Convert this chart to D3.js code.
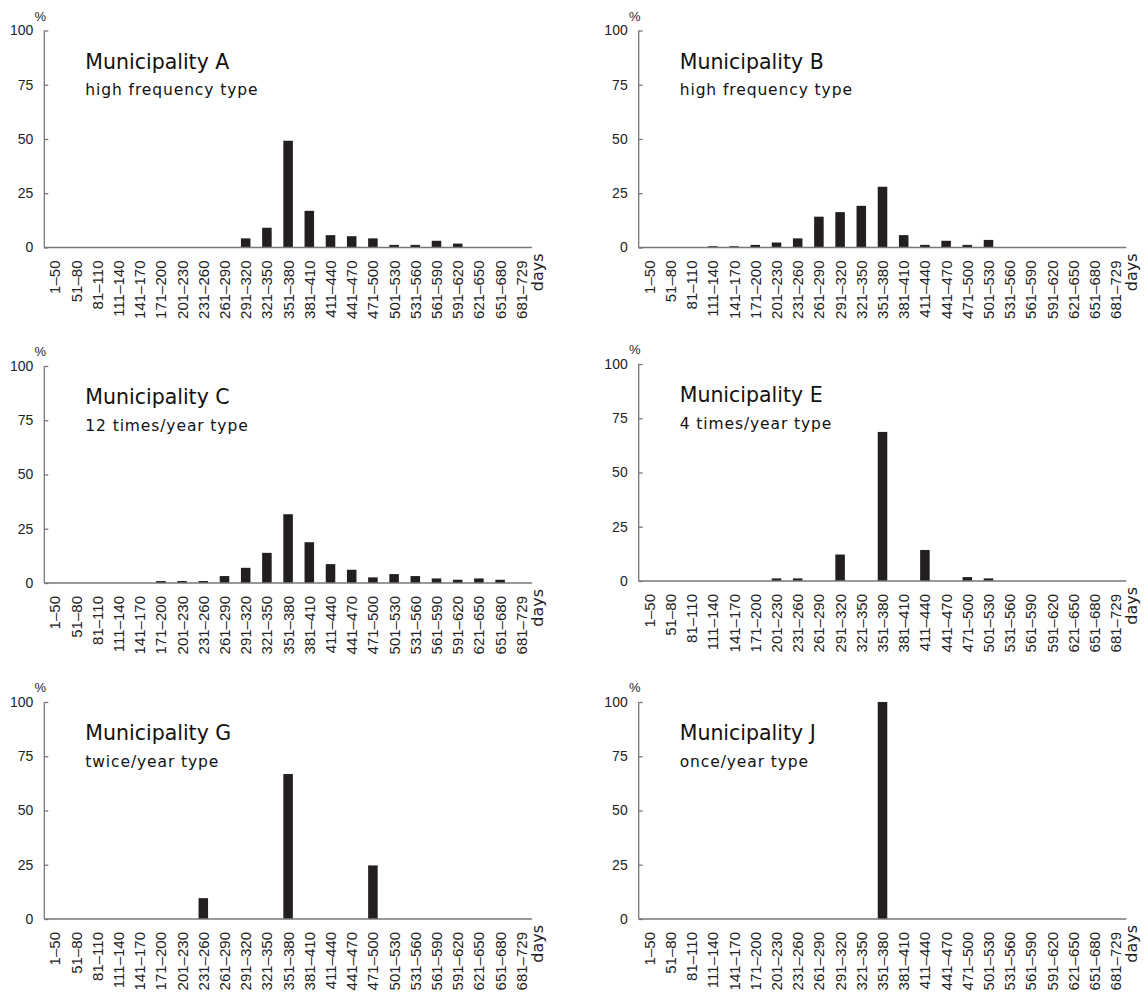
<!DOCTYPE html>
<html>
<head>
  <meta charset="utf-8">
  <title>Intervals</title>
  <script src="https://d3js.org/d3.v7.min.js"></script>
  <style>
    body { margin: 0; background: #fff; }
  </style>
</head>
<body>
<script>
  var W = 1145, H = 993;

  var categories = ["1–50","51–80","81–110","111–140","141–170","171–200","201–230",
    "231–260","261–290","291–320","321–350","351–380","381–410","411–440","441–470",
    "471–500","501–530","531–560","561–590","591–620","621–650","651–680","681–729"];

  var yTicks = [0, 25, 50, 75, 100];

  var muniA = [0,0,0,0,0,0,0,0,0,4.2,9.1,49.2,16.9,5.7,5.2,4.2,1.2,1.2,3.1,1.8,0,0,0];
  var muniB = [0,0,0,0.6,0.6,1.2,2.3,4.2,14.2,16.3,19.2,28,5.7,1.2,3.1,1.2,3.5,0,0,0,0,0,0];
  var muniC = [0,0,0,0,0,0.9,0.9,0.9,3.2,7.0,13.9,31.7,18.8,8.7,6.1,2.6,4.1,3.2,2.1,1.5,2.1,1.5,0];
  var muniE = [0,0,0,0,0,0,1.2,1.2,0,12.2,0,68.7,0,14.3,0,1.8,1.2,0,0,0,0,0,0];
  var muniG = [0,0,0,0,0,0,0,9.6,0,0,0,66.8,0,0,0,24.7,0,0,0,0,0,0,0];
  var muniJ = [0,0,0,0,0,0,0,0,0,0,0,100,0,0,0,0,0,0,0,0,0,0,0];

  var titles = ["Municipality A","Municipality B","Municipality C","Municipality E","Municipality G","Municipality J"];
  var subtitles = ["high frequency type","high frequency type","12 times/year type","4 times/year type","twice/year type","once/year type"];
  var series = [muniA, muniB, muniC, muniE, muniG, muniJ];

  // panel placement (left x of y axis, top = y of 100)
  var layout = [
    {x: 44.3, top: 30.5},
    {x: 638.7, top: 30.5},
    {x: 44.3, top: 366},
    {x: 638.7, top: 364},
    {x: 44.3, top: 702},
    {x: 638.7, top: 702}
  ];
  var pw = 487.6, ph = 217;
  var axisColor = "#777";

  var svg = d3.select("body").append("svg").attr("width", W).attr("height", H);

  series.forEach(function(vals, i){
    var L = layout[i];
    var g = svg.append("g").attr("transform", "translate(" + L.x + "," + L.top + ")");

    var x = d3.scaleBand().domain(categories).range([0, pw]).paddingInner(0.55).paddingOuter(0.275);
    var y = d3.scaleLinear().domain([0, 100]).range([ph, 0]);

    // bars
    g.selectAll("rect.bar")
      .data(vals)
      .enter()
      .append("rect")
      .attr("class", "bar")
      .attr("x", function(d, j){ return x(categories[j]); })
      .attr("width", x.bandwidth())
      .attr("y", function(d){ return y(d); })
      .attr("height", function(d){ return ph - y(d); })
      .attr("fill", "#231f20");

    // y axis
    var yAxis = d3.axisLeft(y).tickValues(yTicks).tickSize(-4).tickPadding(11);
    var ya = g.append("g").call(yAxis);
    ya.select(".domain").attr("stroke", axisColor).attr("stroke-width", 1.3).attr("d", "M0," + ph + "V0");
    ya.selectAll(".tick line").attr("stroke", axisColor).attr("stroke-width", 1.3);
    ya.selectAll(".tick text")
      .attr("font-family", "'Liberation Sans', Arial, sans-serif")
      .attr("font-size", "14px")
      .attr("fill", "#222");

    // x axis
    var xAxis = d3.axisBottom(x).tickSize(0).tickPadding(0);
    var xa = g.append("g").attr("transform", "translate(0," + ph + ")").call(xAxis);
    xa.select(".domain").attr("stroke", axisColor).attr("stroke-width", 1.5).attr("d", "M0,0H" + pw);
    xa.selectAll(".tick text")
      .attr("font-family", "'Liberation Sans', Arial, sans-serif")
      .attr("font-size", "15px")
      .attr("fill", "#222")
      .attr("text-anchor", "end")
      .attr("transform", "rotate(-90)")
      .attr("x", -13)
      .attr("y", 0)
      .attr("dy", "0.36em");

    // unit labels
    g.append("text")
      .attr("x", -4).attr("y", -10)
      .attr("text-anchor", "middle")
      .attr("font-family", "'Liberation Sans', Arial, sans-serif")
      .attr("font-size", "13px")
      .attr("fill", "#222")
      .text("%");

    g.append("text")
      .attr("transform", "translate(" + (pw + 11) + "," + (ph + 6) + ") rotate(-90)")
      .attr("text-anchor", "end")
      .attr("font-family", "'DejaVu Sans', sans-serif")
      .attr("font-size", "16px")
      .attr("fill", "#222")
      .text("days");

    // titles
    g.append("text")
      .attr("x", 41).attr("y", 38)
      .attr("font-family", "'DejaVu Sans', sans-serif")
      .attr("font-size", "20.5px")
      .attr("fill", "#111")
      .text(titles[i]);

    g.append("text")
      .attr("x", 41).attr("y", 64.5)
      .attr("font-family", "'DejaVu Sans', sans-serif")
      .attr("font-size", "15.5px")
      .attr("letter-spacing", "0.9px")
      .attr("fill", "#111")
      .text(subtitles[i]);
  });
</script>
</body>
</html>
